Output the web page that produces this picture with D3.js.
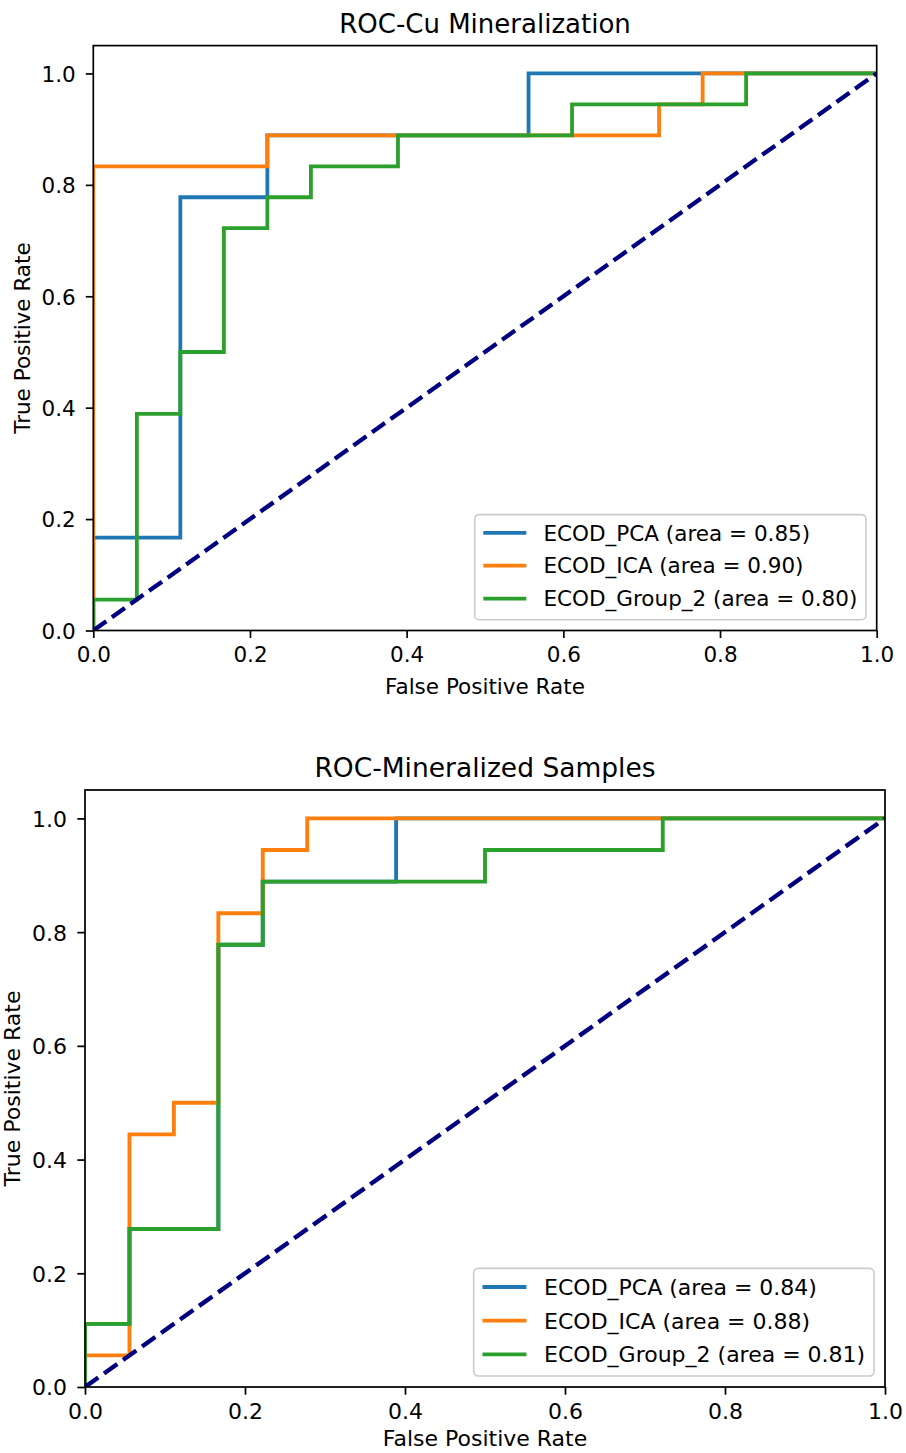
<!DOCTYPE html>
<html>
<head>
<meta charset="utf-8">
<script src="https://cdn.jsdelivr.net/npm/d3@7"></script>
<style>
  html, body { margin: 0; padding: 0; background: #fff; }
  svg { display: block; }
  text { font-family: "DejaVu Sans", "Liberation Sans", sans-serif; fill: #000; }
</style>
</head>
<body>
<svg id="chart" width="906" height="1453"></svg>
<script>
// ---- ROC curves: Cu mineralization ----
const cuPcaFpr = [0, 0, 0.1111, 0.1111, 0.2222, 0.2222, 0.5556, 0.5556, 1];
const cuPcaTpr = [0, 0.1667, 0.1667, 0.7778, 0.7778, 0.8889, 0.8889, 1, 1];
const cuIcaFpr = [0, 0, 0.2222, 0.2222, 0.7222, 0.7222, 0.7778, 0.7778, 1];
const cuIcaTpr = [0, 0.8333, 0.8333, 0.8889, 0.8889, 0.9444, 0.9444, 1, 1];
const cuGrpFpr = [0, 0, 0.0556, 0.0556, 0.1111, 0.1111, 0.1667, 0.1667, 0.2222, 0.2222, 0.2778, 0.2778, 0.3889, 0.3889, 0.6111, 0.6111, 0.8333, 0.8333, 1];
const cuGrpTpr = [0, 0.0556, 0.0556, 0.3889, 0.3889, 0.5, 0.5, 0.7222, 0.7222, 0.7778, 0.7778, 0.8333, 0.8333, 0.8889, 0.8889, 0.9444, 0.9444, 1, 1];
const cuAuc = [0.85, 0.90, 0.80];

// ---- ROC curves: mineralized samples ----
const smPcaFpr = [0, 0, 0.0556, 0.0556, 0.1667, 0.1667, 0.2222, 0.2222, 0.3889, 0.3889, 1];
const smPcaTpr = [0, 0.1111, 0.1111, 0.2778, 0.2778, 0.7778, 0.7778, 0.8889, 0.8889, 1, 1];
const smIcaFpr = [0, 0, 0.0556, 0.0556, 0.1111, 0.1111, 0.1667, 0.1667, 0.2222, 0.2222, 0.2778, 0.2778, 1];
const smIcaTpr = [0, 0.0556, 0.0556, 0.4444, 0.4444, 0.5, 0.5, 0.8333, 0.8333, 0.9444, 0.9444, 1, 1];
const smGrpFpr = [0, 0, 0.0556, 0.0556, 0.1667, 0.1667, 0.2222, 0.2222, 0.5, 0.5, 0.7222, 0.7222, 1];
const smGrpTpr = [0, 0.1111, 0.1111, 0.2778, 0.2778, 0.7778, 0.7778, 0.8889, 0.8889, 0.9444, 0.9444, 1, 1];
const smAuc = [0.84, 0.88, 0.81];

// ---- shared labels, ticks and colours ----
const seriesNames = ["ECOD_PCA", "ECOD_ICA", "ECOD_Group_2"];
const seriesColors = ["#1f77b4", "#ff7f0e", "#2ca02c"];
const chanceLine = [[0, 0], [1, 1]];
const tickValues = [0, 0.2, 0.4, 0.6, 0.8, 1.0];
const tickLabels = ["0.0", "0.2", "0.4", "0.6", "0.8", "1.0"];
const xLabel = "False Positive Rate";
const yLabel = "True Positive Rate";

const panels = [
  {
    id: "cu", title: "ROC-Cu Mineralization",
    fpr: [cuPcaFpr, cuIcaFpr, cuGrpFpr], tpr: [cuPcaTpr, cuIcaTpr, cuGrpTpr], auc: cuAuc,
    left: 93.3, right: 876.7, top: 45.6, bottom: 630.5, fs: 21.5, titleFs: 26, xLabelGap: 63
  },
  {
    id: "sm", title: "ROC-Mineralized Samples",
    fpr: [smPcaFpr, smIcaFpr, smGrpFpr], tpr: [smPcaTpr, smIcaTpr, smGrpTpr], auc: smAuc,
    left: 85, right: 885, top: 790, bottom: 1387, fs: 22, titleFs: 26.5, xLabelGap: 59
  }
];

const svg = d3.select("#chart");
const fmtAuc = d3.format(".2f");

panels.forEach(p => {
  const k = p.fs / 21.5;
  const x = d3.scaleLinear().domain([0, 1]).range([p.left, p.right]);
  const y = d3.scaleLinear().domain([0, 1.05]).range([p.bottom, p.top]);
  const g = svg.append("g");

  // clip region = plotting area
  svg.append("defs").append("clipPath").attr("id", "clip-" + p.id)
    .append("rect")
    .attr("x", p.left).attr("y", p.top)
    .attr("width", p.right - p.left).attr("height", p.bottom - p.top);

  const plot = g.append("g").attr("clip-path", `url(#clip-${p.id})`);
  const line = d3.line().x(d => x(d[0])).y(d => y(d[1]));

  p.fpr.forEach((fx, i) => {
    const pts = fx.map((v, j) => [v, p.tpr[i][j]]);
    plot.append("path")
      .attr("d", line(pts))
      .attr("fill", "none")
      .attr("stroke", seriesColors[i])
      .attr("stroke-width", 3.8 * k)
      .attr("stroke-linejoin", "miter")
      .attr("stroke-linecap", "butt");
  });

  // chance diagonal
  plot.append("path")
    .attr("d", line(chanceLine))
    .attr("fill", "none")
    .attr("stroke", "#000080")
    .attr("stroke-width", 4.3 * k)
    .attr("stroke-dasharray", `${15.9 * k},${6.9 * k}`);

  // axes
  const xAxis = d3.axisBottom(x).tickValues(tickValues)
    .tickFormat((d, i) => tickLabels[i]).tickSizeInner(7.5 * k).tickSizeOuter(0).tickPadding(4 * k);
  const yAxis = d3.axisLeft(y).tickValues(tickValues)
    .tickFormat((d, i) => tickLabels[i]).tickSizeInner(7.5 * k).tickSizeOuter(0).tickPadding(4 * k);

  const gx = g.append("g").attr("transform", `translate(0,${p.bottom})`).call(xAxis);
  const gy = g.append("g").attr("transform", `translate(${p.left},0)`).call(yAxis);
  [gx, gy].forEach(a => {
    a.select(".domain").remove();
    a.selectAll(".tick line").attr("stroke", "#000").attr("stroke-width", 1.7 * k);
    a.selectAll(".tick text").attr("font-size", p.fs).attr("fill", "#000")
      .style("font-family", '"DejaVu Sans", sans-serif');
  });
  gx.selectAll(".tick text").attr("dy", null).attr("y", 31.5 * k);
  gy.selectAll(".tick text").attr("dy", "0.36em").attr("x", -17.5 * k);

  // frame
  g.append("rect")
    .attr("x", p.left).attr("y", p.top)
    .attr("width", p.right - p.left).attr("height", p.bottom - p.top)
    .attr("fill", "none").attr("stroke", "#000").attr("stroke-width", 1.7 * k);

  // title and axis labels
  g.append("text")
    .attr("x", (p.left + p.right) / 2).attr("y", p.top - 12.3 * k)
    .attr("text-anchor", "middle").attr("font-size", p.titleFs)
    .text(p.title);
  g.append("text")
    .attr("x", (p.left + p.right) / 2).attr("y", p.bottom + p.xLabelGap)
    .attr("text-anchor", "middle").attr("font-size", p.fs)
    .text(xLabel);
  g.append("text")
    .attr("transform", `translate(${p.left - 63.3 * k},${(p.top + p.bottom) / 2}) rotate(-90)`)
    .attr("text-anchor", "middle").attr("font-size", p.fs)
    .text(yLabel);

  // legend (lower right)
  const fs = p.fs;
  const labels = seriesNames.map((n, i) => `${n} (area = ${fmtAuc(p.auc[i])})`);
  const lg = g.append("g");
  const box = lg.append("rect");
  const texts = labels.map(t => lg.append("text").attr("font-size", fs).text(t));
  const tw = d3.max(texts, t => t.node().getComputedTextLength());
  const rowH = 1.03 * fs, gap = 0.5 * fs, pad = 0.4 * fs;
  const bw = pad * 2 + 2 * fs + 0.8 * fs + tw;
  const bh = pad * 2 + 3 * rowH + 2 * gap;
  const bx = p.right - 0.5 * fs - bw;
  const by = p.bottom - 0.5 * fs - bh;
  box.attr("x", bx).attr("y", by).attr("width", bw).attr("height", bh)
    .attr("rx", 0.2 * fs).attr("ry", 0.2 * fs)
    .attr("fill", "#fff").attr("fill-opacity", 0.8)
    .attr("stroke", "#cccccc").attr("stroke-width", 1.6 * k);
  labels.forEach((t, i) => {
    const cy = by + pad + rowH / 2 + i * (rowH + gap) - 1.5 * k;
    lg.append("line")
      .attr("x1", bx + pad).attr("x2", bx + pad + 2 * fs)
      .attr("y1", cy).attr("y2", cy)
      .attr("stroke", seriesColors[i]).attr("stroke-width", 3.8 * k);
    texts[i].attr("x", bx + pad + 2.8 * fs).attr("y", cy).attr("dy", "0.36em");
  });
});
</script>
</body>
</html>
